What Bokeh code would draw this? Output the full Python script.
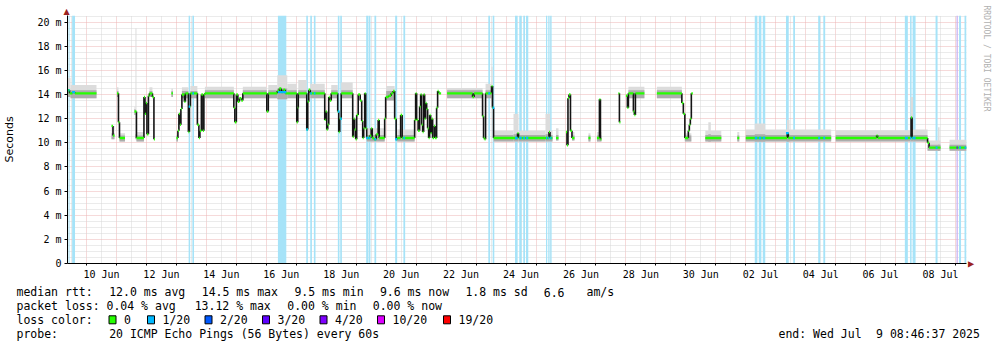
import math
import re
from datetime import datetime, timedelta

from bokeh.plotting import figure
from bokeh.models import (Range1d, FixedTicker, Title,
                          DatetimeTickFormatter, CustomJSTickFormatter)
from bokeh.layouts import column
from bokeh.embed import file_html
from bokeh.resources import INLINE
from bokeh.core.properties import value

NAN = float("nan")

# ---------------------------------------------------------------- data
# time base: hours after 2025-06-09 00:00
BASE = datetime(2025, 6, 9)
END = datetime(2025, 7, 9, 8, 46, 37)
START = END - timedelta(days=30)

# median rtt samples (each holds until the next one), ms; NaN = no data
med_hours = [
    8.8, 10.4, 12.8, 14.8, 32.0,
    44.0, 45.2, 46.4,
    48.4, 49.6, 50.4, 54.8,
    62.4, 64.0, 70.0, 70.8, 71.6, 72.4, 73.6, 74.4, 76.8, 78.0, 78.8,
    92.0, 93.2,
    96.0, 97.2, 98.0, 98.8, 99.6, 100.4, 102.4, 103.2, 105.6, 106.4, 107.2,
    112.8, 114.0, 114.8, 116.0, 117.2, 118.0, 118.8,
    142.0, 142.8, 144.0, 145.2, 146.4, 148.0, 149.2,
    168.4, 169.6, 176.8, 178.4, 180.0, 181.6, 183.2,
    192.4, 193.2, 193.6, 200.4, 201.2, 202.0, 203.2,
    214.8, 215.6, 216.4, 217.2, 218.0, 218.8, 220.0,
    225.2, 226.0, 226.8, 228.0,
    237.2, 238.0, 238.8, 239.6, 240.4, 241.6, 243.2, 244.4, 245.2, 246.0,
    246.8, 247.6, 248.4,
    250.8, 252.0, 252.8, 254.4, 256.0, 257.6, 258.4,
    262.8, 263.6, 266.0, 268.0, 269.6, 270.8, 272.0, 272.8, 275.6, 276.8,
    286.8, 287.6, 288.4, 289.6, 290.8, 291.6, 292.4, 293.2, 294.0, 294.8,
    295.6, 296.4, 297.2, 298.0, 298.8, 299.6, 300.4, 301.2, 302.4, 303.2,
    304.4, 305.2, 306.0, 308.0,
    312.8, 333.2, 334.4, 341.2, 342.0, 342.8, 343.6, 348.4, 349.2, 350.0,
    369.2, 370.0, 394.4, 395.2, 397.2,
    400.0, 402.0,
    408.0, 408.8, 409.6, 410.4, 411.6, 412.8, 414.8,
    426.0, 427.6,
    432.8, 434.8, 435.6, 436.4,
    450.0, 450.8, 451.6,
    456.0, 457.2, 458.0, 462.0, 462.8, 463.6, 470.8,
    480.8, 500.8, 502.0, 503.2, 506.0, 506.8, 507.6, 508.4, 509.6,
    519.6, 532.4,
    545.2, 546.8,
    552.0, 585.2, 586.0, 620.4,
    624.0, 656.8, 657.6, 684.4, 685.2, 697.6, 698.8, 708.0,
    715.2,
]
med_ms = [
    14.35, 14.1, 14.2, 14.1, NAN,
    11.4, 10.6, NAN,
    14.1, 11.7, 10.4, NAN,
    12.6, 10.4, 13.8, 12.4, 13.3, 10.7, 13.9, 14.1, 13.8, 10.3, NAN,
    14.1, NAN,
    10.4, 11.0, 12.4, 11.5, 12.8, 14.0, 13.4, 14.1, 10.9, 13.0, 14.1,
    11.5, 10.4, 11.0, 14.0, 11.0, 14.0, 14.1,
    12.9, 11.7, 14.0, 13.4, 13.7, 13.5, 14.1,
    12.6, 14.1, 14.3, 14.5, 14.2, 14.4, 14.1,
    11.7, 12.9, 14.1, 11.1, 13.4, 14.4, 14.1,
    11.9, 12.6, 11.1, 11.5, 13.8, 13.5, 14.1,
    12.6, 10.9, 12.0, 14.1,
    10.5, 12.0, 11.1, 10.3, 12.3, 14.0, 13.5, 11.8, 10.4, 11.2,
    14.1, 11.2, 10.4,
    10.6, 11.2, 10.4, 10.3, 10.7, 11.9, 10.4,
    12.0, 13.8, 13.9, 14.1, 14.3, 12.0, 10.3, 10.4, 12.3, 10.4,
    11.9, 14.1, 11.9, 11.0, 13.0, 14.0, 11.5, 10.9, 14.0, 12.0,
    13.3, 12.8, 11.2, 10.4, 12.3, 10.8, 12.0, 10.4, 11.4, 10.4,
    12.9, 14.3, 14.1, NAN,
    14.1, 13.8, 14.1, 12.2, 10.4, 10.3, 14.1, 14.7, 12.9, 10.4,
    10.8, 10.4, 10.9, 10.4, NAN,
    10.4, NAN,
    10.9, 9.8, 13.7, 14.0, 11.0, 10.4, NAN,
    10.4, NAN,
    10.4, 13.6, 10.3, NAN,
    14.1, 11.7, NAN,
    13.9, 12.9, 14.1, 12.6, 12.3, 14.1, NAN,
    14.1, 13.3, 12.4, 10.4, 11.0, 11.5, 12.0, 14.1, NAN,
    10.4, NAN,
    10.4, NAN,
    10.4, 10.8, 10.4, NAN,
    10.4, 10.6, 10.4, 12.1, 10.4, 10.0, 9.6, NAN,
    9.6,
]

# smoke (ping spread) blocks: hour range, bottom, dense top, top (ms)
smoke_h0 = [8.8, 11.2, 44.0, 48.4, 50.4, 62.4, 63.2, 64.0, 74.4, 92.0,
            96.0, 100.4, 107.2, 118.8, 149.2, 169.6, 176.8, 184.8, 193.6, 203.2,
            220.0, 228.0, 248.4, 264.0, 272.8, 312.8, 343.6, 348.4, 350.0, 366.0,
            370.0, 391.6, 395.2, 400.0, 412.8, 426.0, 432.8, 458.0, 480.8, 503.2,
            519.6, 522.0, 545.2, 552.0, 559.2, 585.0, 624.0, 684.0, 686.0, 697.6,
            706.0, 715.2]
smoke_h1 = [11.2, 32.0, 46.4, 49.6, 54.8, 63.2, 64.0, 70.0, 76.8, 93.2,
            97.2, 105.6, 112.8, 142.0, 168.4, 176.8, 184.8, 192.4, 200.4, 214.8,
            225.2, 237.2, 262.8, 270.8, 286.8, 341.2, 348.4, 349.2, 366.0, 370.0,
            391.6, 395.2, 397.2, 402.0, 414.8, 427.6, 436.4, 470.8, 500.8, 508.4,
            532.4, 524.0, 546.8, 620.4, 567.6, 587.0, 684.0, 686.0, 697.6, 708.0,
            707.2, 728.8]
smoke_lo = [13.8, 13.7, 10.3, 13.8, 10.1, 12.3, 10.3, 10.1, 13.8, 13.8,
            10.1, 13.7, 13.7, 13.7, 13.7, 13.7, 13.6, 13.7, 13.7, 13.7,
            13.7, 13.7, 10.1, 13.5, 10.1, 13.7, 13.7, 13.0, 10.1, 10.1,
            10.1, 10.1, 10.1, 10.2, 10.2, 10.1, 10.1, 13.7, 13.7, 10.1,
            10.1, 10.1, 10.1, 10.1, 10.1, 10.1, 10.1, 10.1, 10.1, 9.35,
            9.35, 9.35]
smoke_mid = [14.4, 14.35, 10.8, 14.3, 10.6, 12.8, 10.7, 10.6, 14.3, 14.3,
             10.6, 14.3, 14.3, 14.35, 14.35, 14.35, 14.5, 14.35, 14.35, 14.35,
             14.35, 14.35, 10.65, 14.3, 10.65, 14.35, 14.35, 14.6, 10.65, 10.7,
             10.65, 10.7, 10.65, 10.65, 10.6, 10.6, 10.6, 14.35, 14.35, 10.6,
             10.65, 10.7, 10.6, 10.65, 10.7, 10.7, 10.65, 10.8, 10.65, 9.85,
             9.85, 9.85]
smoke_hi = [15.4, 14.8, 11.4, 14.6, 10.8, 13.0, 19.5, 10.9, 14.6, 14.5,
            10.8, 14.6, 14.7, 14.65, 14.65, 14.8, 15.6, 14.9, 15.2, 14.9,
            14.8, 15.0, 11.2, 14.7, 11.1, 14.55, 14.9, 16.3, 11.0, 12.4,
            11.0, 12.4, 11.0, 11.2, 10.9, 10.8, 10.9, 14.65, 14.65, 10.8,
            11.0, 11.7, 10.9, 11.1, 11.6, 11.9, 11.05, 13.8, 11.1, 10.2,
            11.3, 10.25]

# packet-loss periods: hour range and loss level (n/20)
loss_h0 = [9.6, 12.5, 105.8, 108.8, 177.3, 200.0, 203.2, 206.1, 225.3, 227.2,
           248.0, 250.1, 254.6, 271.2, 277.8, 345.8, 349.3, 367.2, 370.6, 373.8,
           376.0, 392.0, 393.8, 395.4, 559.2, 562.4, 565.6, 584.2, 590.0, 610.0,
           614.1, 679.4, 683.6, 685.6, 704.0, 720.8, 722.8, 727.2]
loss_h1 = [10.4, 14.8, 107.0, 110.1, 184.0, 201.3, 204.5, 207.4, 226.6, 228.5,
           249.8, 251.4, 256.0, 272.8, 279.2, 347.2, 350.6, 369.3, 372.5, 375.2,
           377.8, 393.0, 394.9, 396.5, 561.3, 564.5, 567.6, 586.4, 591.4, 611.6,
           615.6, 681.8, 684.8, 688.0, 705.6, 721.8, 724.4, 728.8]
loss_level = [1, 1, 1, 1, 1, 1, 1, 1, 1, 1,
              1, 1, 1, 1, 1, 1, 1, 1, 1, 1,
              1, 1, 1, 1, 1, 1, 1, 1, 1, 1,
              1, 1, 1, 1, 1, 3, 1, 1]

loss_labels = ["0", "1/20", "2/20", "3/20", "4/20", "10/20", "19/20"]
loss_colors = ["#26ff00", "#00b8ff", "#0059ff", "#5e00ff", "#7e00ff", "#dd00ff", "#ff0000"]
bar_colors = {1: "#a6e3f8", 3: "#c8b0f2"}
marker_colors = {1: "#00b8ff", 3: "#5e00ff"}

y_ticks = [0, 2, 4, 6, 8, 10, 12, 14, 16, 18, 20]
Y_TOP = 20.55

legend_lines = [
    "median rtt:  12.0 ms avg  14.5 ms max  9.5 ms min  9.6 ms now  1.8 ms sd  6.6   am/s",
    "packet loss: 0.04 % avg  13.12 % max  0.00 % min  0.00 % now",
    "loss color:",
    "probe:       20 ICMP Echo Pings (56 Bytes) every 60s",
]
end_text = "end: Wed Jul  9 08:46:37 2025"


# ---------------------------------------------------------------- helpers
def ms(dt):
    return (dt - datetime(1970, 1, 1)).total_seconds() * 1000.0


def hms(h):
    return ms(BASE) + h * 3600000.0


t_start, t_end = ms(START), ms(END)
MONO = "DejaVu Sans Mono"

# ---------------------------------------------------------------- main plot
p = figure(width=997, height=282, x_axis_type="datetime",
           x_range=Range1d(t_start, t_end), y_range=Range1d(0, Y_TOP),
           output_backend="svg", toolbar_location=None, title_location=None,
           min_border_left=66, min_border_right=31, min_border_top=15,
           min_border_bottom=17)
p.outline_line_color = None
p.background_fill_color = "white"
p.border_fill_color = "white"

label_days = [ms(BASE + timedelta(days=d, hours=12)) for d in range(1, 30, 2)]
midnights = [ms(BASE + timedelta(days=d)) for d in range(1, 31)]
noons = [ms(BASE + timedelta(days=d, hours=12)) for d in range(0, 30)]

fmt = "%d %b"
p.xaxis.ticker = FixedTicker(ticks=label_days, minor_ticks=midnights)
p.xaxis.formatter = DatetimeTickFormatter(
    microseconds=fmt, milliseconds=fmt, seconds=fmt, minsec=fmt, minutes=fmt,
    hourmin=fmt, hours=fmt, days=fmt, months=fmt, years=fmt)
p.xaxis.major_tick_out = 0
p.xaxis.major_tick_in = 0
p.xaxis.minor_tick_out = 2
p.xaxis.minor_tick_in = 0
p.xaxis.minor_tick_line_color = "black"
p.xaxis.axis_line_color = "black"
p.xaxis.major_label_text_font = MONO
p.xaxis.major_label_text_font_size = "10px"
p.xaxis.major_label_text_color = "black"
p.xaxis.major_label_standoff = 3

p.yaxis.ticker = FixedTicker(ticks=y_ticks, minor_ticks=[])
p.yaxis.formatter = CustomJSTickFormatter(code="return tick == 0 ? '0' : tick + ' m';")
p.yaxis.major_tick_out = 3
p.yaxis.major_tick_in = 0
p.yaxis.minor_tick_out = 0
p.yaxis.minor_tick_in = 0
p.yaxis.major_tick_line_color = "black"
p.yaxis.axis_line_color = "black"
p.yaxis.major_label_text_font = MONO
p.yaxis.major_label_text_font_size = "10px"
p.yaxis.major_label_text_color = "black"
p.yaxis.major_label_standoff = 3
p.yaxis.axis_label = "Seconds"
p.yaxis.axis_label_text_font = "DejaVu Sans"
p.yaxis.axis_label_text_font_size = "11px"
p.yaxis.axis_label_text_font_style = "normal"
p.yaxis.axis_label_text_color = "black"
p.yaxis.axis_label_standoff = 18

p.xgrid.ticker = FixedTicker(ticks=midnights, minor_ticks=noons)
p.xgrid.grid_line_color = "#ecb4b4"
p.xgrid.grid_line_dash = "1 1"
p.xgrid.minor_grid_line_color = "#d6d6d6"
p.xgrid.minor_grid_line_dash = "1 1"
y_minor = [i * 0.5 for i in range(1, 42) if (i * 0.5) % 2 != 0]
p.ygrid.ticker = FixedTicker(ticks=y_ticks[1:], minor_ticks=y_minor)
p.ygrid.grid_line_color = "#ecb4b4"
p.ygrid.grid_line_dash = "1 1"
p.ygrid.minor_grid_line_color = "#d6d6d6"
p.ygrid.minor_grid_line_dash = "1 1"

# loss bars
p.quad(left=[hms(h) for h in loss_h0], right=[hms(h) for h in loss_h1],
       bottom=0, top=Y_TOP, fill_color=[bar_colors[l] for l in loss_level],
       line_color=None)

# smoke
p.quad(left=[hms(h) for h in smoke_h0], right=[hms(h) for h in smoke_h1],
       bottom=smoke_lo, top=smoke_hi, fill_color="#dcdcdc", line_color=None)
p.quad(left=[hms(h) for h in smoke_h0], right=[hms(h) for h in smoke_h1],
       bottom=smoke_lo, top=smoke_mid, fill_color="#acacac", line_color=None)

# median line
tt = [hms(h) for h in med_hours] + [t_end]
hx0, hx1, hy = [], [], []
vx, vy0, vy1 = [], [], []
for i, v in enumerate(med_ms):
    if math.isnan(v):
        continue
    hx0.append(tt[i])
    hx1.append(tt[i + 1])
    hy.append(v)
    if i + 1 < len(med_ms) and not math.isnan(med_ms[i + 1]):
        vx.append(tt[i + 1])
        vy0.append(v)
        vy1.append(med_ms[i + 1])

p.segment(x0=vx, y0=vy0, x1=vx, y1=vy1, line_color="#141414", line_width=1.6)
p.segment(x0=hx0, y0=hy, x1=hx1, y1=hy, line_color="#26ff00", line_width=2.4,
          line_cap="butt")

# median coloured by loss during loss periods
mx0, mx1, my, mc = [], [], [], []
for h0, h1, lv in zip(loss_h0, loss_h1, loss_level):
    mid = 0.5 * (h0 + h1)
    idx = None
    for i in range(len(med_hours)):
        if med_hours[i] <= mid:
            idx = i
    if idx is None or math.isnan(med_ms[idx]):
        continue
    mx0.append(hms(h0)); mx1.append(hms(h1)); my.append(med_ms[idx])
    mc.append(marker_colors[lv])
p.segment(x0=mx0, y0=my, x1=mx1, y1=my, line_color=mc, line_width=2.4,
          line_cap="butt")

# axis arrow heads (side-panel text, so they are not clipped by the frame)
head_color = "#9b2222"
p.add_layout(Title(text="\u25B2", align="left", offset=-4, standoff=0,
                   text_font="DejaVu Sans", text_font_size="8px",
                   text_color=head_color, text_font_style="normal"), "above")
p.add_layout(Title(text="\u25B2", align="right", offset=-4, standoff=0,
                   text_font="DejaVu Sans", text_font_size="8px",
                   text_color=head_color, text_font_style="normal"), "right")

rt = Title(text="RRDTOOL / TOBI OETIKER", align="left", offset=-10,
           text_font=MONO, text_font_size="8px",
           text_color="#b0b0b0", text_font_style="normal", standoff=8)
p.add_layout(rt, "right")

# ---------------------------------------------------------------- legend block
lg = figure(width=997, height=65, x_range=Range1d(0, 997), y_range=Range1d(65, 0),
            output_backend="svg", toolbar_location=None, title_location=None,
            x_axis_location=None, y_axis_location=None,
            min_border_left=0, min_border_right=0, min_border_top=0,
            min_border_bottom=0)
try:
    p.frame_align = False
    lg.frame_align = False
except Exception:
    lg.x_range = Range1d(66, 966)
    lg.min_border_left = 66
    lg.min_border_right = 31
lg.outline_line_color = None
lg.grid.visible = False
lg.background_fill_color = "white"
lg.border_fill_color = "white"

line_y = [9.7, 23.3, 37.3, 51.3]
cw = 7.125
tx, ty, ts = [], [], []
for line, y in zip(legend_lines, line_y):
    for m in re.finditer(r"\S+(?: \S+)*", line):
        tx.append(16 + m.start() * cw); ty.append(y); ts.append(m.group())
for m in re.finditer(r"\S+(?: \S+)*", end_text):
    tx.append(778 + m.start() * 6.97); ty.append(line_y[3]); ts.append(m.group())

box_x = [108.5, 147, 204.5, 262, 319.5, 377, 443]
for bx, lab in zip(box_x, loss_labels):
    tx.append(bx + 15); ty.append(line_y[2]); ts.append(lab)

lg.text(x=tx, y=ty, text=ts, text_font=value(MONO), text_font_size="11.5px",
        text_color="black", text_align="left", text_baseline="middle")
lg.quad(left=box_x, right=[b + 7 for b in box_x], top=[line_y[2] - 4] * 7,
        bottom=[line_y[2] + 4] * 7, fill_color=loss_colors, line_color="black",
        line_width=1)

layout = column(p, lg, spacing=0)
open("out.html", "w").write(file_html(layout, INLINE))
